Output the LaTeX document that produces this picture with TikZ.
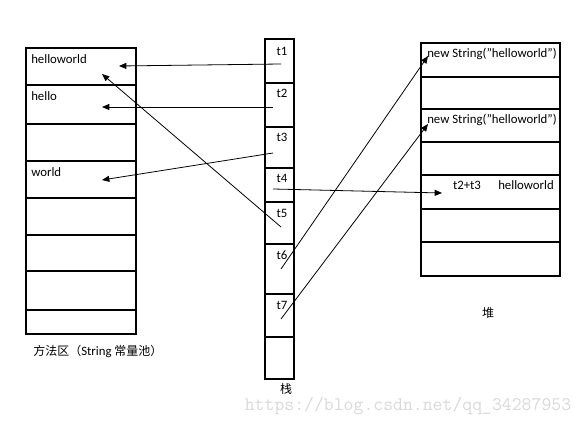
\documentclass[tikz,border=0pt]{standalone}
\usepackage{fontspec}
\setmainfont{Carlito}
\newfontfamily\cjk{Noto Sans CJK SC}
\usetikzlibrary{arrows.meta, fit}

\begin{document}
\begin{tikzpicture}[x=0.75pt, y=-0.75pt,
    cell/.style={draw, line width=0.8pt, inner sep=0pt},
    txt/.style={font=\fontsize{9.6}{11}\selectfont, inner sep=0pt},
    captxt/.style={font=\fontsize{9}{10}\selectfont\cjk, inner sep=0pt},
    ref/.style={-{Triangle[length=5.5pt, width=4.5pt]}, line width=0.6pt}
]
\useasboundingbox (0,0) rectangle (585,427);

% ============================================================
% method area (String pool)  x=26..136
% ============================================================
\foreach \n/\a/\b in {1/48/85, 2/85/124, 3/124/161, 4/161/198, 5/198/235, 6/235/271, 7/271/310, 8/310/334} {
    \node[cell, fit={(26,\a) (136,\b)}] (m\n) {};
}
\node[txt, anchor=west] (hw)  at (31,59)  {helloworld};
\node[txt, anchor=west] (hel) at (31,96)  {hello};
\node[txt, anchor=west] (wor) at (31,172) {world};
\node[captxt, anchor=west] (mcap) at (33,351) {方法区（{\fontsize{9.6}{11}\selectfont\rmfamily String} 常量池）};

% ============================================================
% stack  x=265..294
% ============================================================
\foreach \n/\a/\b in {1/39/83, 2/83/127, 3/127/168, 4/168/202, 5/202/244, 6/244/294, 7/294/337, 8/337/379} {
    \node[cell, fit={(265,\a) (294,\b)}] (s\n) {};
}
\foreach \n/\y in {1/51, 2/93, 3/137, 4/178, 5/213, 6/255, 7/305} {
    \node[txt] (t\n) at (282,\y) {t\n};
}
\node[captxt] (scap) at (286,389) {栈};

% ============================================================
% heap  x=421..560
% ============================================================
\foreach \n/\a/\b in {1/43/77, 2/77/109, 3/109/142, 4/142/175, 5/175/209, 6/209/242, 7/242/276} {
    \node[cell, fit={(421,\a) (560,\b)}] (h\n) {};
}
\node[txt, anchor=west] (ns1) at (427,54)  {new String("helloworld")};
\node[txt, anchor=west] (ns2) at (427,120) {new String("helloworld")};
\node[txt] (sum) at (467,185) {t2+t3};
\node[txt, anchor=west] (shw) at (498,185) {helloworld};
\node[captxt] (hcap) at (488,313) {堆};

% ============================================================
% references
% ============================================================
\coordinate (t1r) at (281,64);   \coordinate (hwp)  at (119,66);
\coordinate (t2r) at (273,107);  \coordinate (help) at (102,107);
\coordinate (t3r) at (273,153);  \coordinate (worp) at (102,180);
\coordinate (t5r) at (281,227);  \coordinate (hwq)  at (102,74);
\coordinate (t4r) at (273,189);  \coordinate (sump) at (442,193);
\coordinate (t6r) at (281,269);  \coordinate (ns1p) at (428,56);
\coordinate (t7r) at (281,319);  \coordinate (ns2p) at (428,124);

\draw[ref] (t1r) -- (hwp);
\draw[ref] (t2r) -- (help);
\draw[ref] (t3r) -- (worp);
\draw[ref] (t5r) -- (hwq);
\draw[ref] (t4r) -- (sump);
\draw[ref] (t6r) -- (ns1p);
\draw[ref] (t7r) -- (ns2p);

% watermark
\node[font=\fontsize{14.4}{16}\selectfont\ttfamily, text=gray!30, inner sep=0pt] (wm) at (408,406) {https://blog.csdn.net/qq\_34287953};

\end{tikzpicture}
\end{document}
